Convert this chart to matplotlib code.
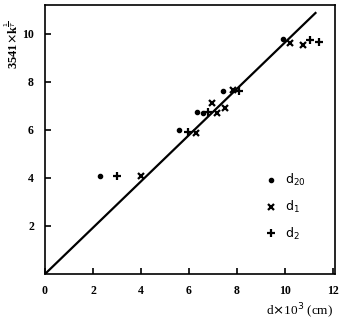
import matplotlib
matplotlib.use("Agg")
import matplotlib.pyplot as plt

# data (d x 10^3 cm, 3541 x k^-1/T)
d20_x = [2.3, 5.6, 6.35, 6.6, 7.4, 9.9]
d20_y = [4.1, 6.0, 6.75, 6.7, 7.6, 9.8]
d1_x = [4.0, 6.3, 6.95, 7.15, 7.5, 7.85, 10.2, 10.75]
d1_y = [4.1, 5.85, 7.1, 6.7, 6.9, 7.65, 9.6, 9.55]
d2_x = [3.0, 5.95, 6.8, 8.1, 11.05, 11.4]
d2_y = [4.1, 5.9, 6.75, 7.6, 9.75, 9.65]
fit_x = [0, 11.3]
fit_y = [0, 10.9]
xticks = [0, 2, 4, 6, 8, 10, 12]
yticks = [2, 4, 6, 8, 10]

plt.rcParams['font.family'] = ['Liberation Serif', 'DejaVu Serif']

fig = plt.figure(figsize=(3.42, 3.2), dpi=100)
ax = fig.add_axes([45/342, 46/320, 290/342, 269/320])

ax.plot(fit_x, fit_y, color='black', lw=1.6, solid_capstyle='butt')
ax.plot(d20_x, d20_y, 'o', color='black', ms=3, ls='none', label=r'$\mathrm{d_{20}}$')
ax.plot(d1_x, d1_y, 'x', color='black', ms=5, mew=1.6, ls='none', label=r'$\mathrm{d_{1}}$')
ax.plot(d2_x, d2_y, '+', color='black', ms=6, mew=1.6, ls='none', label=r'$\mathrm{d_{2}}$')

ax.set_xlim(0, 12.08)
ax.set_ylim(0, 11.2)
ax.set_xticks(xticks)
ax.set_yticks(yticks)
ax.tick_params(direction='in', length=4, width=1.2, labelsize=8.5, pad=8)
for lab in ax.get_xticklabels() + ax.get_yticklabels():
    lab.set_fontweight('bold')
for s in ax.spines.values():
    s.set_linewidth(1.2)

leg = ax.legend(frameon=False, loc='upper left', bbox_to_anchor=(0.72, 0.42),
                handlelength=1.0, handletextpad=0.6, labelspacing=0.85, fontsize=9)

fig.text(12/342, 1 - 45/320, r'3541$\times$k$^{\frac{1}{T}}$', rotation=90,
         ha='center', va='center', fontsize=9, fontweight='bold')
fig.text(300/342, 1 - 311/320, r'd$\times$10$^3$ (cm)', ha='center', va='center',
         fontsize=9.5)

fig.savefig('out.png', dpi=100)
